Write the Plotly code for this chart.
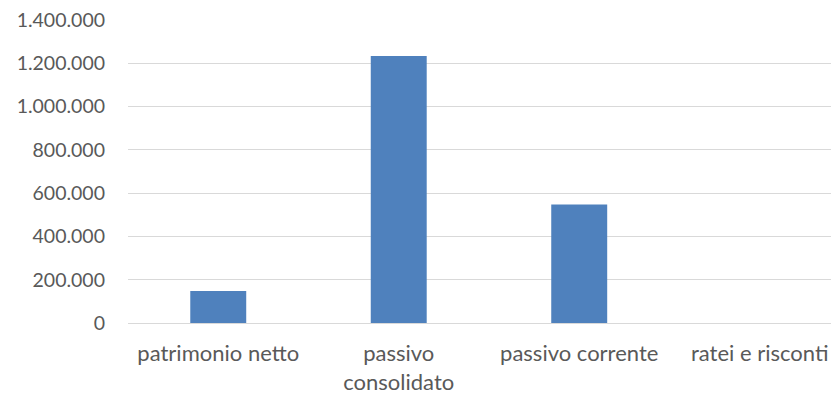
import plotly.graph_objects as go

categories = ["patrimonio netto", "passivo<br>consolidato", "passivo corrente", "ratei e risconti"]
values = [148000, 1234000, 547000, 0]
ytick_vals = [0, 200000, 400000, 600000, 800000, 1000000, 1200000, 1400000]

FONT = "Lato"
GRAY = "#595959"

fig = go.Figure(go.Bar(
    x=list(range(len(categories))),
    y=values,
    marker=dict(color="#4f81bd", line=dict(width=0)),
    width=0.31,
))

fig.update_layout(
    width=831, height=394,
    margin=dict(l=128, r=0, t=20, b=71),
    paper_bgcolor="white", plot_bgcolor="white",
    separators=",.",
    showlegend=False,
    font=dict(family=FONT, size=19, color=GRAY),
)
fig.update_xaxes(
    tickmode="array",
    tickvals=list(range(len(categories))),
    ticktext=categories,
    range=[-0.5, 3.395],
    showgrid=False, zeroline=False, showline=False,
    ticks="", ticklabelstandoff=15,
    ticklabeloverflow="allow",
    automargin=False,
    tickfont=dict(family=FONT, size=22, color=GRAY),
)
fig.update_yaxes(
    range=[0, 1400000],
    tickmode="array",
    tickvals=ytick_vals,
    tickformat=",d",
    showgrid=True, gridcolor="#d9d9d9", gridwidth=1,
    zeroline=True, zerolinecolor="#d9d9d9", zerolinewidth=1,
    showline=False, ticks="", ticklabelstandoff=22,
    automargin=False,
    tickfont=dict(family=FONT, size=19.5, color=GRAY),
)

fig.write_html("out.html")
